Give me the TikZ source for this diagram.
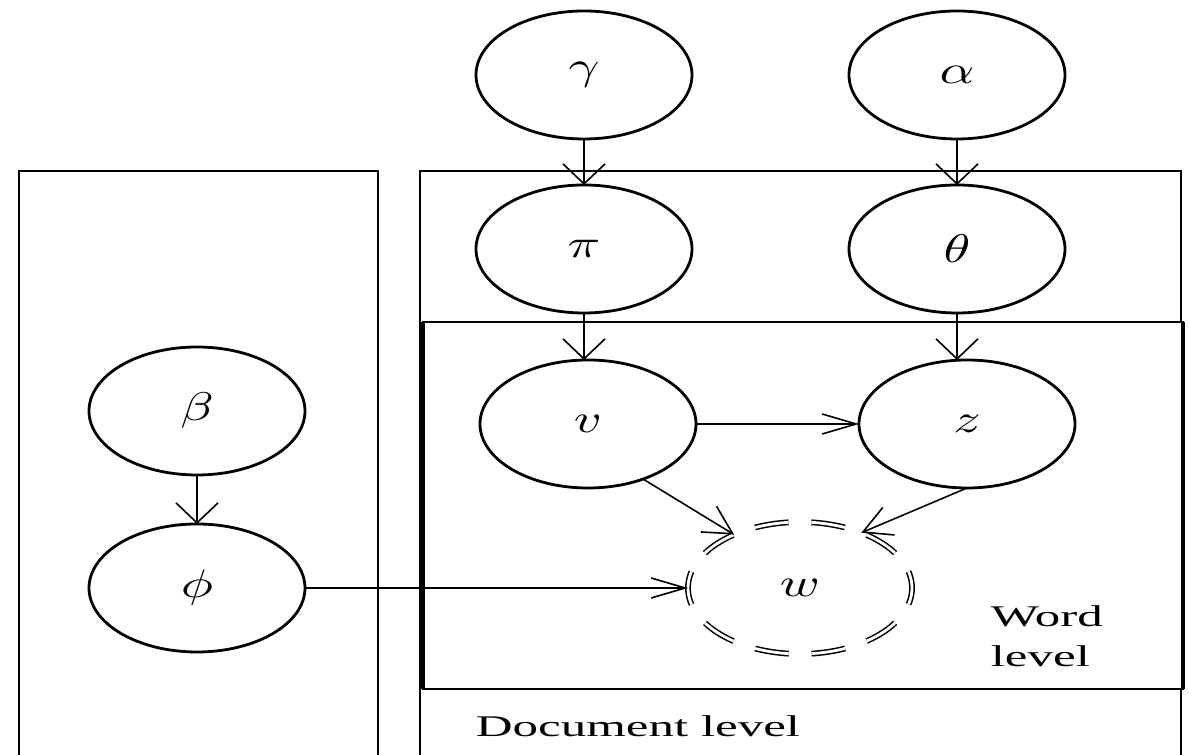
\documentclass[tikz,border=0pt]{standalone}
\usepackage{graphicx}
\usepackage{fontspec}
\setmainfont{Liberation Serif}
\usetikzlibrary{arrows.meta,shapes.geometric}
\newcommand\gk[1]{\scalebox{1.35}[1]{$#1$}}
\newcommand\wide[1]{\scalebox{1.7}[1]{#1}}
\begin{document}
\begin{tikzpicture}[x=0.25pt,y=-0.25pt,
  var/.style={draw, ellipse, line width=0.7pt, minimum width=54pt, minimum height=32pt, inner sep=0pt, outer sep=0pt},
  obs/.style={draw, ellipse, double, double distance=0.7pt, line width=0.38pt,
    dash pattern=on 8.5pt off 5.72pt, dash phase=4.25pt,
    minimum width=56pt, minimum height=33pt, inner sep=0pt, outer sep=0pt},
  edge/.style={line width=0.4pt},
  vtip/.style={edge, -{Straight Barb[length=5pt,width=10.5pt]}},
  htip/.style={edge, -{Straight Barb[length=8.5pt,width=5pt]}},
  dtip/.style={edge, -{Straight Barb[length=7pt,width=7.5pt]}},
  plate/.style={line width=0.4pt},
  thickside/.style={line width=0.9pt},
  lbl/.style={font=\fontsize{7.5}{10}\selectfont, inner sep=0pt}]
\useasboundingbox (0,0) rectangle (1189,755);
% plates
\draw[plate] (19,760) -- (19,171) -- (378,171) -- (378,760);
\draw[plate] (420,760) -- (420,171) -- (1181,171) -- (1181,760);
\draw[plate, fill=white] (423,322) rectangle (1183,689);
\draw[thickside] (423,322) -- (423,689);
\draw[thickside] (1183,322) -- (1183,689);
% nodes
\node[var] (gamma) at (584,75) {\gk{\gamma}};
\node[var] (alpha) at (957,75) {\gk{\alpha}};
\node[var] (pi) at (584,249) {\gk{\pi}};
\node[var] (theta) at (957,249) {\gk{\theta}};
\node[var] (v) at (588,424) {\gk{v}};
\node[var] (z) at (967,424) {\gk{z}};
\node[var] (beta) at (197,411) {\gk{\beta}};
\node[var] (phi) at (197,588) {\gk{\phi}};
\node[obs] (w) at (800,588) {\gk{w}};
% labels
\node[lbl, anchor=north west, align=left] (wl) at (990,598) {\wide{\begin{tabular}{@{}l@{}}Word\\level\end{tabular}}};
\node[lbl, anchor=base west] (dl) at (475,737) {\wide{Document level}};
% edges
\draw[vtip] (gamma) -- (pi);
\draw[vtip] (alpha) -- (theta);
\draw[vtip] (beta) -- (phi);
\draw[vtip] (pi.south) -- (pi.south |- v.north);
\draw[vtip] (theta.south) -- (theta.south |- z.north);
\draw[htip] (v) -- (z);
\draw[htip] (phi) -- (w);
\draw[dtip] (v.-45) -- (w.141);
\draw[dtip] (z.south) -- (w.42);
\end{tikzpicture}
\end{document}
